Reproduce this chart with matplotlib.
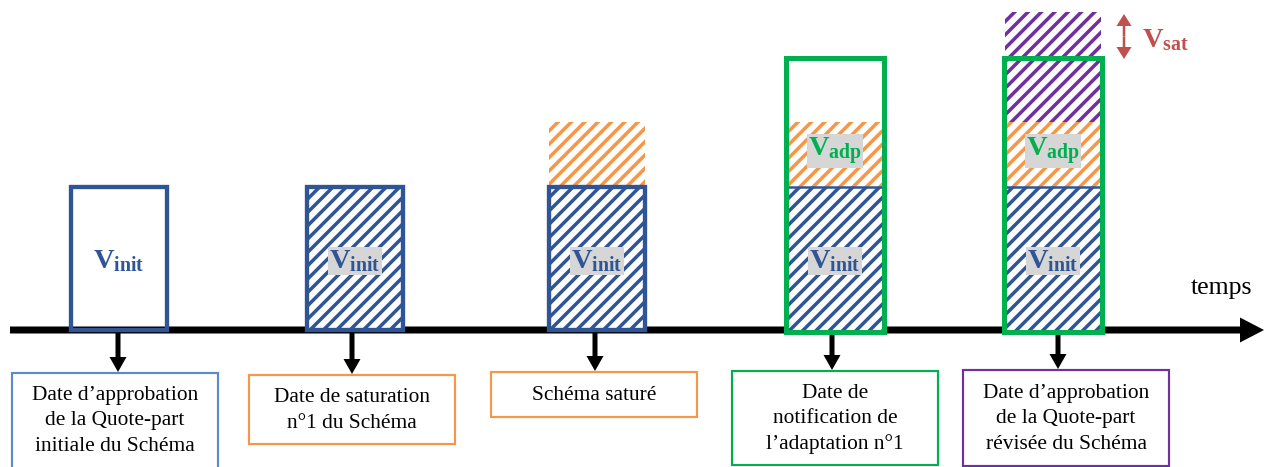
import matplotlib
matplotlib.use('Agg')
import matplotlib.pyplot as plt
import matplotlib.patches as mpatches

plt.rcParams['font.family'] = ['Liberation Serif', 'DejaVu Serif']
plt.rcParams['mathtext.fontset'] = 'custom'
plt.rcParams['mathtext.rm'] = 'Liberation Serif'
plt.rcParams['mathtext.bf'] = 'Liberation Serif:bold'
plt.rcParams['hatch.linewidth'] = 2.1

# ---- contenu du schéma ----
stage_labels = [
    'Date d’approbation\nde la Quote-part\ninitiale du Schéma',
    'Date de saturation\nn°1 du Schéma',
    'Schéma saturé',
    'Date de\nnotification de\nl’adaptation n°1',
    'Date d’approbation\nde la Quote-part\nrévisée du Schéma',
]
stage_segments = [['init'], ['init'], ['init', 'adp'], ['init', 'adp'], ['init', 'adp', 'sat']]
stage_hatched = [False, True, True, True, True]
stage_green_frame = [False, False, False, True, True]
segment_names = {'init': r'$\mathbf{V_{init}}$', 'adp': r'$\mathbf{V_{adp}}$'}
axis_label = 'temps'
sat_label = r'$\mathbf{V_{sat}}$'

# ---- couleurs ----
BLUE = '#2F5597'
ORANGE = '#F79646'
GREEN = '#00B050'
PURPLE = '#7030A0'
RED = '#C0504D'
GREY = '#D6D6D6'
seg_colors = {'init': BLUE, 'adp': ORANGE, 'sat': PURPLE}
label_colors = ['#5B8BCB', ORANGE, ORANGE, GREEN, PURPLE]

# ---- mise en page (pixels) ----
stage_x = [119, 355, 597, 835, 1053]      # centre des colonnes
label_x = [115, 352, 594, 835, 1066]      # centre des cartouches
label_top = [373, 375, 372, 371, 370]
label_bot = [472, 444, 417, 465, 466]
arrow_x = [118, 352, 595, 832, 1058]
BAR_W = 96
SEG_Y = {'init': (187, 330), 'adp': (122, 187), 'sat': (12, 122)}
AXIS_Y = 330
LBL_W = 206

DPI = 120
fig = plt.figure(figsize=(1268 / DPI, 467 / DPI), dpi=DPI, facecolor='white')
ax = fig.add_axes([0, 0, 1, 1])
ax.set_xlim(0, 1268)
ax.set_ylim(467, 0)
ax.axis('off')

# axe du temps
ax.add_patch(mpatches.FancyArrow(10, AXIS_Y, 1254, 0, width=7, head_width=25,
                                 head_length=24, length_includes_head=True,
                                 color='black', lw=0))
ax.text(1222, 288, axis_label, ha='center', va='center', fontsize=15.5)

for i, segs in enumerate(stage_segments):
    cx = stage_x[i]
    x0 = cx - BAR_W / 2
    for s in segs:
        y_top, y_bot = SEG_Y[s]
        if stage_hatched[i]:
            ax.add_patch(mpatches.Rectangle((x0, y_top), BAR_W, y_bot - y_top,
                                            facecolor='white', edgecolor=seg_colors[s],
                                            hatch='///', lw=0, zorder=2))
    # cadre bleu de V_init
    y_top, y_bot = SEG_Y['init']
    if stage_green_frame[i]:
        ax.plot([x0, x0 + BAR_W], [y_top, y_top], color=BLUE, lw=1.5, zorder=3)
    else:
        ax.add_patch(mpatches.Rectangle((x0, y_top), BAR_W, y_bot - y_top,
                                        facecolor='none', edgecolor=BLUE, lw=2.6,
                                        zorder=3))
    if stage_green_frame[i]:
        ax.add_patch(mpatches.Rectangle((x0 - 1, 58), BAR_W + 2, 274,
                                        facecolor='none', edgecolor=GREEN, lw=3.0,
                                        zorder=4))
    # étiquettes des volumes
    box = dict(facecolor=GREY, edgecolor='none', pad=0.5) if stage_hatched[i] else None
    ax.text(cx, 261, segment_names['init'], ha='center', va='center', fontsize=17,
            color=BLUE, bbox=box, zorder=5)
    if 'adp' in segs and stage_green_frame[i]:
        ax.text(cx, 151, segment_names['adp'], ha='center', va='center', fontsize=17,
                color=GREEN, bbox=box, zorder=5)

    # flèche vers le cartouche
    ax.add_patch(mpatches.FancyArrow(arrow_x[i], AXIS_Y + 3, 0, label_top[i] - AXIS_Y - 4,
                                     width=5, head_width=17, head_length=15,
                                     length_includes_head=True, color='black', lw=0))
    # cartouche
    ax.add_patch(mpatches.Rectangle((label_x[i] - LBL_W / 2, label_top[i]), LBL_W,
                                    label_bot[i] - label_top[i], facecolor='white',
                                    edgecolor=label_colors[i], lw=1.3, zorder=3))
    ax.text(label_x[i], (label_top[i] + min(label_bot[i], 467)) / 2 + 1, stage_labels[i],
            ha='center', va='center', fontsize=12.8, linespacing=1.45, zorder=4)

# V_sat : double flèche
sat_mid = 36.5
for tip in (14, 59):
    ax.add_patch(mpatches.FancyArrow(1124, sat_mid, 0, tip - sat_mid, width=2.5,
                                     head_width=15, head_length=12,
                                     length_includes_head=True, color=RED, lw=0))
ax.text(1142, 40, sat_label, ha='left', va='center', fontsize=17, color=RED)

fig.savefig('out.png', dpi=DPI, facecolor='white')
